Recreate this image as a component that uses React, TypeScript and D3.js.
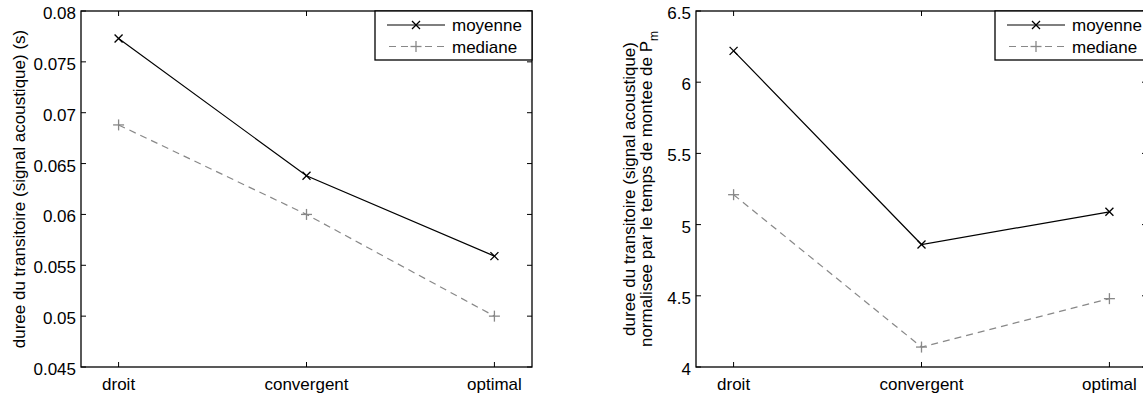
import React from "react";
import * as d3 from "d3";

const categories = ["droit", "convergent", "optimal"];

const leftMoyenne = [0.0773, 0.0638, 0.0559];
const leftMediane = [0.0688, 0.06, 0.05];
const leftTicks = [0.045, 0.05, 0.055, 0.06, 0.065, 0.07, 0.075, 0.08];
const leftTickLabels = ["0.045", "0.05", "0.055", "0.06", "0.065", "0.07", "0.075", "0.08"];

const rightMoyenne = [6.22, 4.86, 5.09];
const rightMediane = [5.21, 4.14, 4.48];
const rightTicks = [4, 4.5, 5, 5.5, 6, 6.5];
const rightTickLabels = ["4", "4.5", "5", "5.5", "6", "6.5"];

const seriesNames = ["moyenne", "mediane"];

const FONT = "'Liberation Sans', Arial, Helvetica, sans-serif";
const FS = 17;
const GRAY = "#888888";

type PanelProps = {
  x0: number;
  x1: number;
  y0: number;
  y1: number;
  domain: [number, number];
  ticks: number[];
  tickLabels: string[];
  moy: number[];
  med: number[];
  legendLeft: number;
  ylabel: React.ReactNode;
};

function Cross({ x, y, color }: { x: number; y: number; color: string }) {
  const s = 4;
  return (
    <g stroke={color} strokeWidth={1.3}>
      <line x1={x - s} y1={y - s} x2={x + s} y2={y + s} />
      <line x1={x - s} y1={y + s} x2={x + s} y2={y - s} />
    </g>
  );
}

function Plus({ x, y, color }: { x: number; y: number; color: string }) {
  const s = 5.5;
  return (
    <g stroke={color} strokeWidth={1.3}>
      <line x1={x - s} y1={y} x2={x + s} y2={y} />
      <line x1={x} y1={y - s} x2={x} y2={y + s} />
    </g>
  );
}

function Panel(p: PanelProps) {
  const x = d3.scaleLinear().domain([0.8, 3.2]).range([p.x0, p.x1]);
  const y = d3.scaleLinear().domain(p.domain).range([p.y1, p.y0]);
  const line = d3
    .line<number>()
    .x((_, i) => x(i + 1))
    .y((d) => y(d));
  const tl = 5;
  const lgTop = p.y0;
  const lgBottom = 60;
  const lgRight = p.x1;
  const row1 = 25;
  const row2 = 46.5;
  const lx0 = p.legendLeft + 12;
  const lx1 = p.legendLeft + 70;
  const lmid = (lx0 + lx1) / 2;
  return (
    <g>
      {categories.map((c, i) => (
        <g key={c}>
          <line x1={x(i + 1)} x2={x(i + 1)} y1={p.y1} y2={p.y1 - tl} stroke="#000" strokeWidth={1} />
          <line x1={x(i + 1)} x2={x(i + 1)} y1={p.y0} y2={p.y0 + tl} stroke="#000" strokeWidth={1} />
          <text x={x(i + 1)} y={p.y1 + 23} textAnchor="middle" fontFamily={FONT} fontSize={FS}>
            {c}
          </text>
        </g>
      ))}
      {p.ticks.map((t, i) => (
        <g key={t}>
          <line x1={p.x0} x2={p.x0 + tl} y1={y(t)} y2={y(t)} stroke="#000" strokeWidth={1} />
          <line x1={p.x1} x2={p.x1 - tl} y1={y(t)} y2={y(t)} stroke="#000" strokeWidth={1} />
          <text x={p.x0 - 5} y={y(t) + 8} textAnchor="end" fontFamily={FONT} fontSize={FS}>
            {p.tickLabels[i]}
          </text>
        </g>
      ))}
      <path d={line(p.med) || ""} fill="none" stroke={GRAY} strokeWidth={1.2} strokeDasharray="7,5" />
      <path d={line(p.moy) || ""} fill="none" stroke="#000" strokeWidth={1.2} />
      {p.med.map((v, i) => (
        <Plus key={"m" + i} x={x(i + 1)} y={y(v)} color={GRAY} />
      ))}
      {p.moy.map((v, i) => (
        <Cross key={"c" + i} x={x(i + 1)} y={y(v)} color="#000" />
      ))}
      <rect x={p.x0} y={p.y0} width={p.x1 - p.x0} height={p.y1 - p.y0} fill="none" stroke="#000" strokeWidth={1.3} />
      <rect
        x={p.legendLeft}
        y={lgTop}
        width={lgRight - p.legendLeft}
        height={lgBottom - lgTop}
        fill="#fff"
        stroke="#000"
        strokeWidth={1.3}
      />
      <line x1={lx0} x2={lx1} y1={row1} y2={row1} stroke="#000" strokeWidth={1.2} />
      <Cross x={lmid} y={row1} color="#000" />
      <text x={lx1 + 7} y={row1 + 6} fontFamily={FONT} fontSize={FS}>
        {seriesNames[0]}
      </text>
      <line x1={lx0} x2={lx1} y1={row2} y2={row2} stroke={GRAY} strokeWidth={1.2} strokeDasharray="7,5" strokeDashoffset={-2} />
      <Plus x={lmid} y={row2} color={GRAY} />
      <text x={lx1 + 7} y={row2 + 6} fontFamily={FONT} fontSize={FS}>
        {seriesNames[1]}
      </text>
      {p.ylabel}
    </g>
  );
}

export default function App() {
  const y0 = 11;
  const y1 = 367;
  return (
    <svg
      width={1143}
      height={394}
      style={{ position: "absolute", left: 0, top: 0, background: "#fff" }}
    >
      <rect x={0} y={0} width={1143} height={394} fill="#fff" />
      <Panel
        x0={81}
        x1={532}
        y0={y0}
        y1={y1}
        domain={[0.045, 0.08]}
        ticks={leftTicks}
        tickLabels={leftTickLabels}
        moy={leftMoyenne}
        med={leftMediane}
        legendLeft={375}
        ylabel={
          <text
            transform={`translate(25,${(y0 + y1) / 2}) rotate(-90)`}
            textAnchor="middle"
            fontFamily={FONT}
            fontSize={FS}
          >
            duree du transitoire (signal acoustique) (s)
          </text>
        }
      />
      <Panel
        x0={696}
        x1={1147}
        y0={y0}
        y1={y1}
        domain={[4, 6.5]}
        ticks={rightTicks}
        tickLabels={rightTickLabels}
        moy={rightMoyenne}
        med={rightMediane}
        legendLeft={995}
        ylabel={
          <g>
            <text
              transform={`translate(635,${(y0 + y1) / 2}) rotate(-90)`}
              textAnchor="middle"
              fontFamily={FONT}
              fontSize={FS}
            >
              duree du transitoire (signal acoustique)
            </text>
            <text
              transform={`translate(652,${(y0 + y1) / 2}) rotate(-90)`}
              textAnchor="middle"
              fontFamily={FONT}
              fontSize={FS}
            >
              normalisee par le temps de montee de P
              <tspan fontSize={12} dy={6}>m</tspan>
            </text>
          </g>
        }
      />
    </svg>
  );
}
